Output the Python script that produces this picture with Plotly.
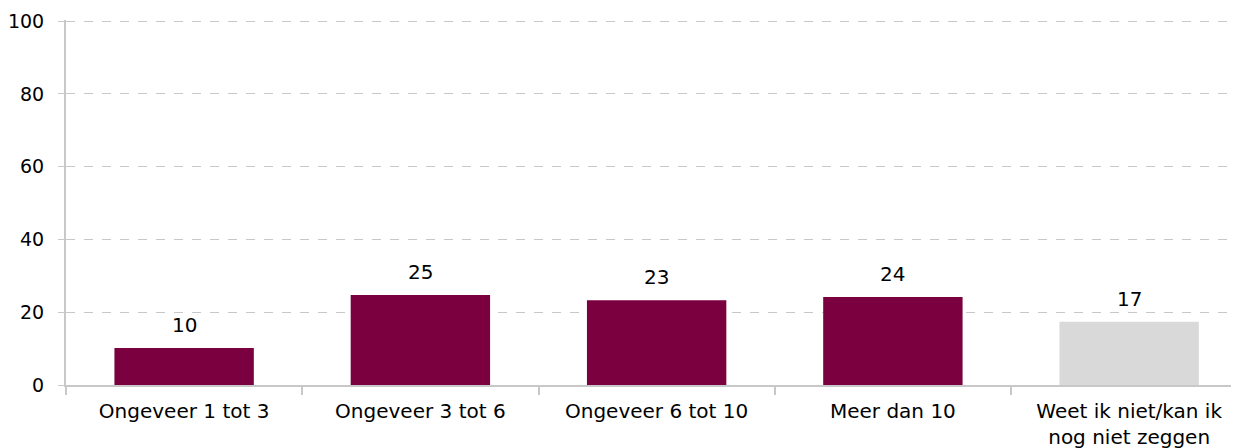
import plotly.graph_objects as go

categories = ["Ongeveer 1 tot 3", "Ongeveer 3 tot 6", "Ongeveer 6 tot 10", "Meer dan 10",
              "Weet ik niet/kan ik<br>nog niet zeggen"]
values = [10.2, 24.7, 23.3, 24.2, 17.4]
labels = ["10", "25", "23", "24", "17"]
colors = ["#7a003f", "#7a003f", "#7a003f", "#7a003f", "#d9d9d9"]
y_ticks = [0, 20, 40, 60, 80, 100]

FONT = "DejaVu Sans"
FS = 20

fig = go.Figure()
fig.add_trace(go.Bar(x=categories, y=values, marker=dict(color=colors, line=dict(width=0)),
                     width=0.59, hoverinfo="skip"))

for c, v, t in zip(categories, values, labels):
    fig.add_annotation(x=c, y=v, text=t, showarrow=False, yanchor="bottom", yshift=9,
                       font=dict(family=FONT, size=FS, color="#000000"))

# page body has an 8px margin, so the figure is sized/offset to compensate;
# the reference plot area runs slightly past the right edge of the picture
fig.update_layout(
    width=1231, height=440,
    margin=dict(l=58, r=0, t=12, b=63, autoexpand=False),
    paper_bgcolor="white", plot_bgcolor="white",
    showlegend=False,
    font=dict(family=FONT, size=FS, color="#000000"),
    xaxis=dict(range=[-0.5, 4.465], showline=True, linecolor="#c8c8c8", linewidth=2,
               ticks="outside", tickson="boundaries", ticklen=8, tickcolor="#c8c8c8",
               tickwidth=2, showgrid=False, tickfont=dict(family=FONT, size=FS),
               automargin=False, ticklabelstandoff=7),
    yaxis=dict(range=[0, 100.3], tickvals=y_ticks, showline=True, linecolor="#c8c8c8",
               linewidth=2, ticks="outside", ticklen=6, tickcolor="#c8c8c8",
               showgrid=True, gridcolor="#c8c8c8", griddash="dash", gridwidth=1,
               zeroline=False, tickfont=dict(family=FONT, size=19), ticklabelstandoff=10,
               automargin=False),
)

fig.write_html("out.html")
